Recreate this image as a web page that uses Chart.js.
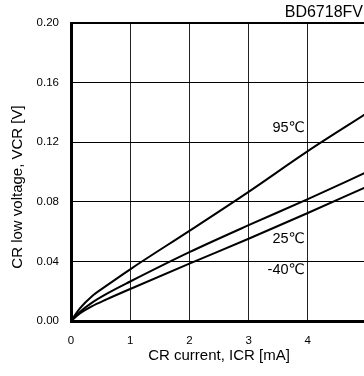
<!DOCTYPE html>
<html>
<head>
<meta charset="utf-8">
<script src="https://cdn.jsdelivr.net/npm/chart.js@4/dist/chart.umd.min.js"></script>
<style>
  html, body { margin: 0; padding: 0; background: #fff; }
  #wrap { width: 364px; height: 376px; overflow: hidden; }
</style>
</head>
<body>
<div id="wrap"><canvas id="crChart" width="400" height="376"></canvas></div>
<script>
// ICR [mA]
var currents = [0, 0.15, 0.35, 0.6, 1, 2, 3, 4, 5];
// VCR [V] per temperature
var v95 = [0, 0.0085, 0.0165, 0.0237, 0.0347, 0.0605, 0.0867, 0.1140, 0.1395];
var v25 = [0, 0.0061, 0.0122, 0.0182, 0.0265, 0.0462, 0.0643, 0.0818, 0.1000];
var vm40 = [0, 0.0050, 0.0098, 0.0145, 0.0215, 0.0385, 0.0552, 0.0725, 0.0902];
var seriesNames = ["95\u2103", "25\u2103", "-40\u2103"];
var xTicks = [0, 1, 2, 3, 4, 5];
var yTicks = [0, 0.04, 0.08, 0.12, 0.16, 0.20];

var FONT = "'Liberation Sans', Arial, 'DejaVu Sans', sans-serif";

function pts(ys) {
  return currents.map(function (c, i) { return { x: c, y: ys[i] }; });
}

function lineSet(name, ys) {
  return {
    label: name,
    data: pts(ys),
    borderColor: "#000",
    borderWidth: 2,
    pointRadius: 0,
    fill: false,
    cubicInterpolationMode: "monotone"
  };
}

// title, y-axis title and curve labels
var labelsPlugin = {
  id: "labels",
  afterDraw: function (chart) {
    var ctx = chart.ctx, x = chart.scales.x, y = chart.scales.y;
    ctx.save();
    ctx.fillStyle = "#000";
    ctx.textBaseline = "middle";

    ctx.font = "16px " + FONT;
    ctx.textAlign = "right";
    ctx.fillText("BD6718FV", 363, 13);

    ctx.font = "14.5px " + FONT;
    var spots = [[3.95, 0.1297], [3.95, 0.0553], [3.95, 0.0342]];
    seriesNames.forEach(function (n, i) {
      ctx.fillText(n, x.getPixelForValue(spots[i][0]), y.getPixelForValue(spots[i][1]));
    });

    ctx.translate(18, 187);
    ctx.rotate(-Math.PI / 2);
    ctx.textAlign = "center";
    ctx.font = "15px " + FONT;
    ctx.fillText("CR low voltage, VCR [V]", 0, 0);
    ctx.restore();
  }
};

new Chart(document.getElementById("crChart"), {
  type: "line",
  data: {
    datasets: [lineSet(seriesNames[0], v95), lineSet(seriesNames[1], v25), lineSet(seriesNames[2], vm40)]
  },
  options: {
    responsive: false,
    animation: false,
    devicePixelRatio: 1,
    layout: { padding: { top: 23, right: 33, left: 0, bottom: 0 } },
    plugins: {
      legend: { display: false },
      tooltip: { enabled: false }
    },
    scales: {
      x: {
        type: "linear",
        min: 0,
        max: 5,
        afterFit: function (s) { s.height = 55; },
        afterBuildTicks: function (s) { s.ticks = xTicks.map(function (v) { return { value: v }; }); },
        ticks: { color: "#000", padding: 13, font: { family: FONT, size: 11.5 } },
        grid: { color: "#222", lineWidth: 1, drawTicks: false },
        border: { color: "#000", width: 3 },
        title: {
          display: true,
          text: "CR current, ICR [mA]",
          color: "#000",
          font: { family: FONT, size: 15 },
          padding: { top: 0, bottom: 11 }
        }
      },
      y: {
        min: 0,
        max: 0.2,
        afterFit: function (s) { s.width = 71; },
        afterBuildTicks: function (s) { s.ticks = yTicks.map(function (v) { return { value: v }; }); },
        ticks: {
          color: "#000",
          padding: 12,
          font: { family: FONT, size: 11.5 },
          callback: function (v) { return Number(v).toFixed(2); }
        },
        grid: {
          color: "#000",
          drawTicks: false,
          lineWidth: function (c) { return c.tick && c.tick.value >= 0.2 ? 2 : 1; }
        },
        border: { color: "#000", width: 3 }
      }
    }
  },
  plugins: [labelsPlugin]
});
</script>
</body>
</html>
